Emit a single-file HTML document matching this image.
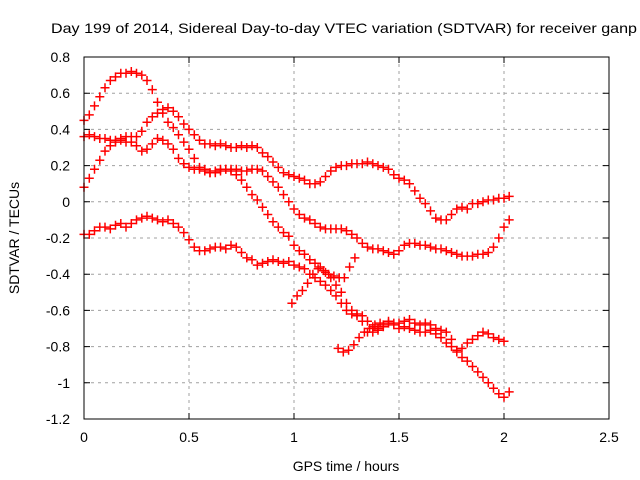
<!DOCTYPE html>
<html><head><meta charset="utf-8"><style>
html,body{margin:0;padding:0;background:#fff;}
svg{display:block;font-family:"Liberation Sans",sans-serif;}
</style></head><body>
<svg id="chart" width="640" height="480" viewBox="0 0 640 480" xmlns="http://www.w3.org/2000/svg">
<rect width="640" height="480" fill="#fff"/>
<text x="51" y="33" font-size="14" textLength="586" lengthAdjust="spacingAndGlyphs">Day 199 of 2014, Sidereal Day-to-day VTEC variation (SDTVAR) for receiver ganp</text>
<g id="grid"></g>
<g id="ticks"></g>
<g id="marks"></g>
<rect x="84" y="57" width="525" height="362" fill="none" stroke="#000" stroke-width="1"/>
<text transform="translate(19,238) rotate(-90)" text-anchor="middle" font-size="14">SDTVAR / TECUs</text>
<text x="346" y="471" text-anchor="middle" font-size="14">GPS time / hours</text>
</svg>
<script>
const xTicks = [0, 0.5, 1, 1.5, 2, 2.5];
const xTickLabels = ["0", "0.5", "1", "1.5", "2", "2.5"];
const yTicks = [0.8, 0.6, 0.4, 0.2, 0, -0.2, -0.4, -0.6, -0.8, -1, -1.2];
const yTickLabels = ["0.8", "0.6", "0.4", "0.2", "0", "-0.2", "-0.4", "-0.6", "-0.8", "-1", "-1.2"];
const sampleStep = 0.025;
const s1Start = 0;
const s1 = [0.45,0.48,0.53,0.58,0.63,0.67,0.69,0.71,0.71,0.72,0.71,0.70,0.67,0.62,0.55,0.49,0.44,0.41,0.37,0.33,0.29,0.24,0.19,0.18,0.16,0.17,0.18,0.18,0.17,0.15,0.12,0.08,0.04,0.01,-0.03,-0.07,-0.11,-0.14,-0.17,-0.19,-0.24,-0.27,-0.29,-0.32,-0.34,-0.36,-0.39,-0.42,-0.46,-0.50,-0.56,-0.60,-0.62,-0.63,-0.66,-0.69,-0.71,-0.69,-0.67,-0.68,-0.70,-0.69,-0.70,-0.71,-0.72,-0.72,-0.71,-0.73,-0.75,-0.78,-0.80,-0.83,-0.81,-0.78,-0.76,-0.74,-0.72,-0.73,-0.75,-0.76,-0.77];
const s2Start = 0;
const s2 = [0.36,0.37,0.36,0.35,0.35,0.34,0.33,0.34,0.33,0.33,0.31,0.28,0.29,0.32,0.35,0.34,0.32,0.29,0.24,0.21,0.19,0.18,0.18,0.17,0.16,0.16,0.17,0.18,0.18,0.18,0.17,0.17,0.18,0.18,0.17,0.14,0.11,0.08,0.04,0.00,-0.04,-0.07,-0.09,-0.10,-0.12,-0.14,-0.15,-0.15,-0.15,-0.15,-0.16,-0.18,-0.20,-0.23,-0.25,-0.26,-0.26,-0.27,-0.28,-0.29,-0.27,-0.24,-0.23,-0.23,-0.24,-0.24,-0.25,-0.26,-0.26,-0.27,-0.28,-0.29,-0.30,-0.30,-0.30,-0.29,-0.29,-0.28,-0.25,-0.20,-0.14,-0.10];
const s3Start = 0;
const s3 = [0.08,0.13,0.18,0.23,0.28,0.31,0.34,0.35,0.36,0.36,0.36,0.39,0.44,0.47,0.49,0.51,0.52,0.50,0.47,0.43,0.40,0.37,0.34,0.32,0.32,0.31,0.32,0.31,0.30,0.30,0.31,0.30,0.31,0.30,0.27,0.25,0.22,0.19,0.16,0.15,0.14,0.13,0.12,0.10,0.10,0.11,0.14,0.17,0.19,0.20,0.20,0.21,0.21,0.21,0.22,0.21,0.20,0.19,0.18,0.15,0.13,0.12,0.10,0.06,0.02,-0.01,-0.05,-0.09,-0.10,-0.10,-0.07,-0.04,-0.03,-0.04,-0.01,-0.01,0.00,0.01,0.01,0.02,0.02,0.03];
const s4Start = 0;
const s4 = [-0.18,-0.18,-0.16,-0.14,-0.14,-0.15,-0.13,-0.12,-0.14,-0.12,-0.10,-0.09,-0.08,-0.09,-0.10,-0.11,-0.10,-0.12,-0.14,-0.17,-0.21,-0.25,-0.27,-0.27,-0.26,-0.25,-0.25,-0.26,-0.24,-0.25,-0.28,-0.31,-0.32,-0.35,-0.34,-0.33,-0.32,-0.33,-0.34,-0.33,-0.35,-0.36,-0.37,-0.40,-0.42,-0.44,-0.46,-0.49,-0.52,-0.56,-0.60,-0.62,-0.63,-0.66,-0.72,-0.72,-0.70,-0.68,-0.66,-0.67,-0.67,-0.66,-0.65,-0.67,-0.68,-0.67,-0.68,-0.70,-0.71,-0.72,-0.76,-0.82,-0.86,-0.88,-0.91,-0.94,-0.97,-1.00,-1.03,-1.06,-1.08,-1.05];
const s5Start = 0.99;
const s5 = [-0.56,-0.52,-0.49,-0.45,-0.40,-0.37,-0.38,-0.40,-0.41,-0.42,-0.42,-0.36,-0.31];
const s6Start = 1.21;
const s6 = [-0.81,-0.83,-0.82,-0.79,-0.75,-0.72,-0.70,-0.68,-0.67];

const X0 = 84, X1 = 609, Y0 = 419, Y1 = 57;
const xMin = 0, xMax = 2.5, yMin = -1.2, yMax = 0.8;
function xScale(v){ return X0 + (v - xMin) / (xMax - xMin) * (X1 - X0); }
function yScale(v){ return Y0 - (v - yMin) / (yMax - yMin) * (Y0 - Y1); }
const NS = "http://www.w3.org/2000/svg";
const grid = document.getElementById('grid');
const ticks = document.getElementById('ticks');
const marks = document.getElementById('marks');
function mk(tag, attrs, parent){
  const e = document.createElementNS(NS, tag);
  for (const k in attrs) e.setAttribute(k, attrs[k]);
  parent.appendChild(e);
  return e;
}
xTicks.forEach((t, i) => {
  const x = xScale(t);
  if (i > 0 && i < xTicks.length - 1) {
    const g = mk('line', {x1:x, x2:x, y1:Y1, y2:Y0, stroke:'#a0a0a0', 'stroke-dasharray':'3,4'}, grid);
    
    
  }
  const tk = mk('path', {d:`M${x},${Y0}v-6M${x},${Y1}v6`, stroke:'#000'}, ticks);
  
  
  const lb = mk('text', {x:x, y:442, 'text-anchor':'middle', 'font-size':'14'}, ticks);
  lb.textContent = xTickLabels[i];
  
  
});
yTicks.forEach((t, i) => {
  const y = yScale(t);
  if (i > 0 && i < yTicks.length - 1) {
    const g = mk('line', {x1:X0, x2:X1, y1:y, y2:y, stroke:'#a0a0a0', 'stroke-dasharray':'3,4'}, grid);
    
    
  }
  const tk = mk('path', {d:`M${X0},${y}h6M${X1},${y}h-6`, stroke:'#000'}, ticks);
  
  
  const lb = mk('text', {x:70, y:y + 5, 'text-anchor':'end', 'font-size':'14'}, ticks);
  lb.textContent = yTickLabels[i];
  
  
});
const series = [[s1Start, s1], [s2Start, s2], [s3Start, s3], [s4Start, s4], [s5Start, s5], [s6Start, s6]];
series.forEach((s, si) => {
  let d = '';
  s[1].forEach((v, i) => {
    const x = xScale(s[0] + i * sampleStep), y = yScale(v);
    d += `M${(x-4.5).toFixed(1)},${y.toFixed(1)}h9M${x.toFixed(1)},${(y-4.5).toFixed(1)}v9`;
  });
  const p = mk('path', {d:d, stroke:'#ff0000', 'stroke-width':'1.5', fill:'none'}, marks);
  
  
});
</script>
</body></html>
